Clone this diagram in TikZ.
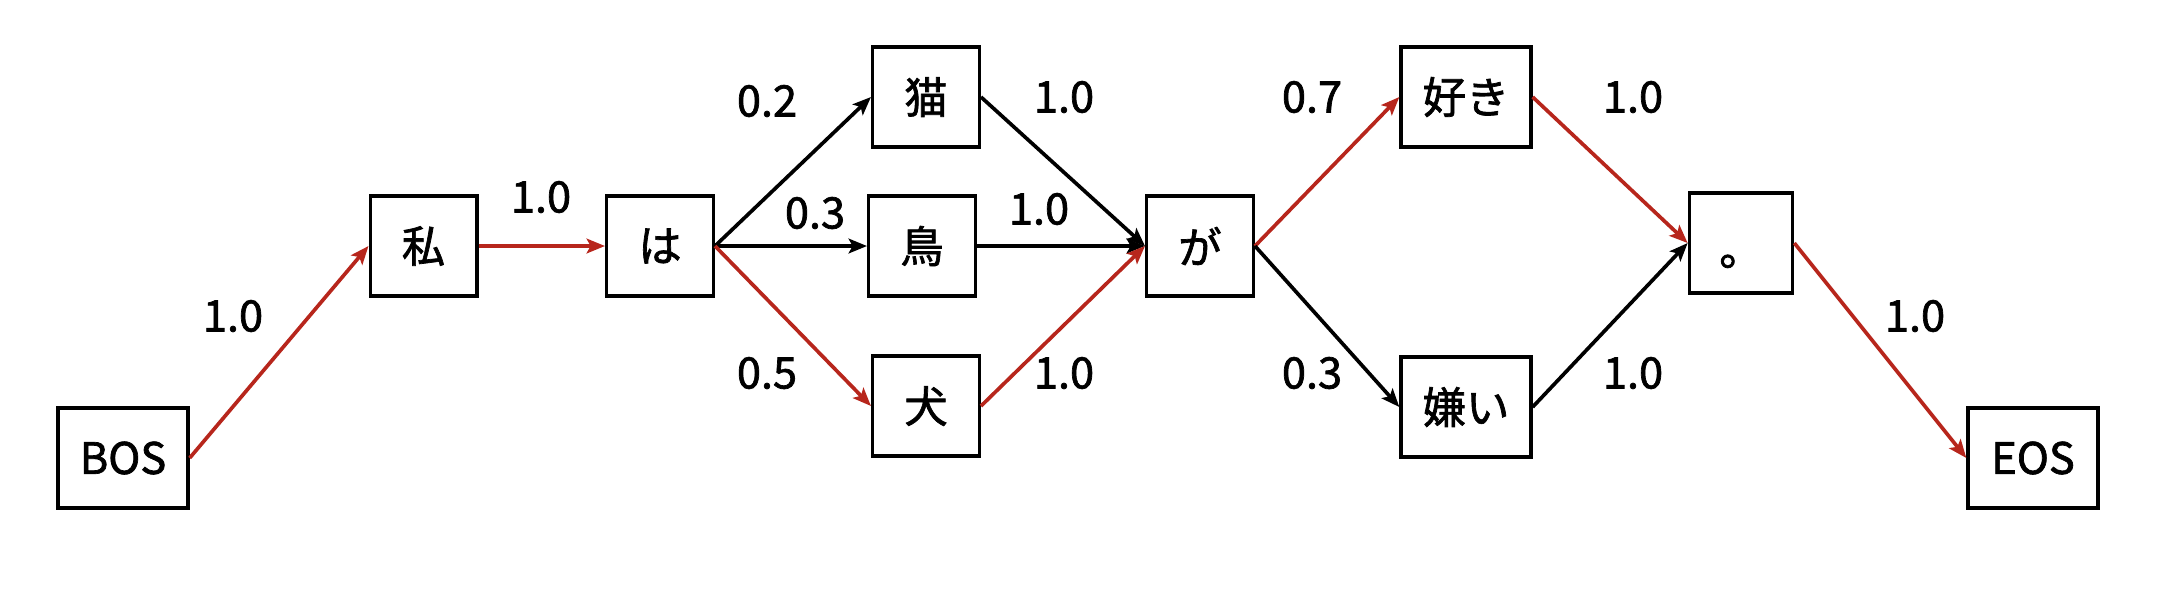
\documentclass[tikz,border=0pt]{standalone}
\usepackage{fontspec}
\setmainfont{Noto Sans CJK JP}[FakeBold=1.6]
\usetikzlibrary{arrows.meta}
\definecolor{pathred}{RGB}{183,38,28}
\begin{document}
\begin{tikzpicture}[x=0.3pt,y=-0.3pt,
  box/.style={draw,line width=1pt,minimum width=#1,minimum height=30pt,inner sep=0pt,font=\fontsize{13}{15}\selectfont},
  box/.default=32pt,
  wlabel/.style={inner sep=0pt,font=\fontsize{13}{15}\selectfont},
  edge/.style={line width=1.1pt,-{Stealth[length=5.5pt,width=4.4pt,inset=1.2pt]}},
  redge/.style={edge,draw=pathred,fill=pathred},
  kedge/.style={edge,draw=black,fill=black}]
\useasboundingbox (0,0) rectangle (2166,594);
\node[box=39pt] (bos) at (123,458) {BOS};
\node[box] (watashi) at (423.5,246) {私};
\node[box] (wa) at (660,246) {は};
\node[box] (neko) at (926,97) {猫};
\node[box] (tori) at (922,246) {鳥};
\node[box] (inu) at (926,406) {犬};
\node[box] (ga) at (1200,246) {が};
\node[box=39pt] (suki) at (1466,97) {好き};
\node[box=39pt] (kirai) at (1466,407) {嫌い};
\node[box=31pt] (maru) at (1741,243) {\raisebox{-5.5pt}[\height][\depth]{。}};
\node[box=39pt] (eos) at (2033,458) {EOS};

\draw[redge] (bos.east) -- (watashi.west);
\draw[redge] (watashi.east) -- (wa.west);
\draw[kedge] (wa.east) -- (neko.west);
\draw[kedge] (wa.east) -- (tori.west);
\draw[redge] (wa.east) -- (inu.west);
\draw[kedge] (neko.east) -- (ga.west);
\draw[kedge] (tori.east) -- (ga.west);
\draw[redge] (inu.east) -- (ga.west);
\draw[redge] (ga.east) -- (suki.west);
\draw[kedge] (ga.east) -- (kirai.west);
\draw[redge] (suki.east) -- (maru.west);
\draw[kedge] (kirai.east) -- (maru.west);
\draw[redge] (maru.east) -- (eos.west);

\node[wlabel] (l1) at (233,316) {1.0};
\node[wlabel] (l2) at (541,197) {1.0};
\node[wlabel] (l3) at (767,101) {0.2};
\node[wlabel] (l4) at (815,213) {0.3};
\node[wlabel] (l5) at (767,373) {0.5};
\node[wlabel] (l6) at (1064,97) {1.0};
\node[wlabel] (l7) at (1039,209) {1.0};
\node[wlabel] (l8) at (1064,373) {1.0};
\node[wlabel] (l9) at (1312,97) {0.7};
\node[wlabel] (l10) at (1312,373) {0.3};
\node[wlabel] (l11) at (1633,97) {1.0};
\node[wlabel] (l12) at (1633,373) {1.0};
\node[wlabel] (l13) at (1915,316) {1.0};
\end{tikzpicture}
\end{document}
